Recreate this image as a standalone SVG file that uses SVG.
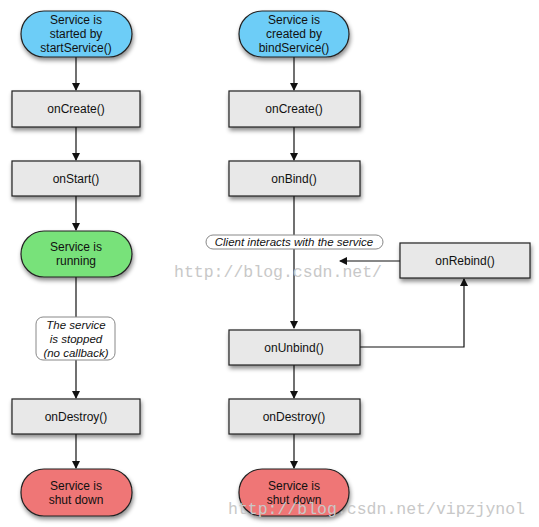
<svg xmlns="http://www.w3.org/2000/svg" width="539" height="527" viewBox="0 0 539 527">
<defs>
<filter id="sh" x="-20%" y="-20%" width="140%" height="160%">
<feDropShadow dx="1" dy="3" stdDeviation="2" flood-color="#000" flood-opacity="0.45"/>
</filter>
<marker id="ah" markerWidth="8" markerHeight="8" refX="7" refY="4" orient="auto" markerUnits="userSpaceOnUse">
<path d="M0,0 L8,4 L0,8 Z" fill="#111"/>
</marker>
<style>
.box{fill:#e8e8e8;stroke:#222;stroke-width:1.2;filter:url(#sh)}
.pill{stroke:#222;stroke-width:1.2;filter:url(#sh)}
.blue{fill:#6dcdf7}
.green{fill:#78e27a}
.red{fill:#ef7676}
.t{font-family:"Liberation Sans",Arial,sans-serif;font-size:12px;fill:#111;text-anchor:middle}
.it{font-family:"Liberation Sans",Arial,sans-serif;font-size:11.5px;font-style:italic;fill:#111;text-anchor:middle}
.note{fill:#fff;stroke:#888;stroke-width:1}
.c{stroke:#111;stroke-width:1.2;fill:none}
.wm{font-family:"Liberation Mono","DejaVu Sans Mono",monospace;font-size:16.5px;fill:#c8c8c8}
</style>
</defs>
<g id="connectors">
<line class="c" x1="76" y1="57" x2="76" y2="90" marker-end="url(#ah)"/>
<line class="c" x1="76" y1="127" x2="76" y2="160" marker-end="url(#ah)"/>
<line class="c" x1="76" y1="196" x2="76" y2="230" marker-end="url(#ah)"/>
<line class="c" x1="76" y1="277" x2="76" y2="317" stroke="#555"/>
<line class="c" x1="76" y1="360" x2="76" y2="398" marker-end="url(#ah)"/>
<line class="c" x1="76" y1="434" x2="76" y2="468" marker-end="url(#ah)"/>
<line class="c" x1="294" y1="57" x2="294" y2="90" marker-end="url(#ah)"/>
<line class="c" x1="294" y1="127" x2="294" y2="160" marker-end="url(#ah)"/>
<line class="c" x1="294" y1="196" x2="294" y2="328" marker-end="url(#ah)"/>
<line class="c" x1="294" y1="434" x2="294" y2="468" marker-end="url(#ah)"/>
<line class="c" x1="294" y1="365" x2="294" y2="398" marker-end="url(#ah)"/>
<line class="c" x1="400" y1="261" x2="340" y2="261" marker-end="url(#ah)"/>
<polyline class="c" points="360,347 464,347 464,279" marker-end="url(#ah)"/>
</g>
<g id="startService">
<rect class="pill blue" x="21" y="11" width="111" height="46" rx="23"/>
<text class="t" x="76" y="24">Service is</text>
<text class="t" x="76" y="38">started by</text>
<text class="t" x="76" y="52">startService()</text>
</g>
<g id="onCreate1">
<rect class="box" x="12" y="91" width="128" height="36"/>
<text class="t" x="76" y="113">onCreate()</text>
</g>
<g id="onStart">
<rect class="box" x="12" y="161" width="128" height="35"/>
<text class="t" x="76" y="183">onStart()</text>
</g>
<g id="running">
<rect class="pill green" x="21" y="231" width="111" height="46" rx="23"/>
<text class="t" x="76" y="251">Service is</text>
<text class="t" x="76" y="265">running</text>
</g>
<g id="stoppedNote">
<rect class="note" x="36" y="317" width="79" height="43" rx="7"/>
<text class="it" x="76" y="329">The service</text>
<text class="it" x="76" y="343">is stopped</text>
<text class="it" x="76" y="357">(no callback)</text>
</g>
<g id="onDestroy1">
<rect class="box" x="12" y="399" width="128" height="35"/>
<text class="t" x="76" y="421">onDestroy()</text>
</g>
<g id="shutdown1">
<rect class="pill red" x="21" y="469" width="111" height="47" rx="23"/>
<text class="t" x="76" y="490">Service is</text>
<text class="t" x="76" y="504">shut down</text>
</g>
<g id="bindService">
<rect class="pill blue" x="239" y="11" width="110" height="46" rx="23"/>
<text class="t" x="294" y="24">Service is</text>
<text class="t" x="294" y="38">created by</text>
<text class="t" x="294" y="52">bindService()</text>
</g>
<g id="onCreate2">
<rect class="box" x="229" y="91" width="131" height="36"/>
<text class="t" x="294" y="113">onCreate()</text>
</g>
<g id="onBind">
<rect class="box" x="229" y="161" width="131" height="35"/>
<text class="t" x="294" y="183">onBind()</text>
</g>
<g id="clientNote">
<rect class="note" x="206" y="235" width="177" height="14" rx="7"/>
<text class="it" x="294" y="246">Client interacts with the service</text>
</g>
<g id="onRebind">
<rect class="box" x="400" y="243" width="130" height="35"/>
<text class="t" x="465" y="265">onRebind()</text>
</g>
<g id="onUnbind">
<rect class="box" x="229" y="330" width="131" height="35"/>
<text class="t" x="294" y="352">onUnbind()</text>
</g>
<g id="onDestroy2">
<rect class="box" x="229" y="399" width="131" height="35"/>
<text class="t" x="294" y="421">onDestroy()</text>
</g>
<g id="shutdown2">
<rect class="pill red" x="239" y="469" width="110" height="47" rx="23"/>
<text class="t" x="294" y="490">Service is</text>
<text class="t" x="294" y="504">shut down</text>
</g>
<g id="watermarks">
<text class="wm" x="174" y="277" textLength="208">http://blog.csdn.net/</text>
<text class="wm" x="228" y="514" textLength="297">http://blog.csdn.net/vipzjynol</text>
</g>
</svg>
